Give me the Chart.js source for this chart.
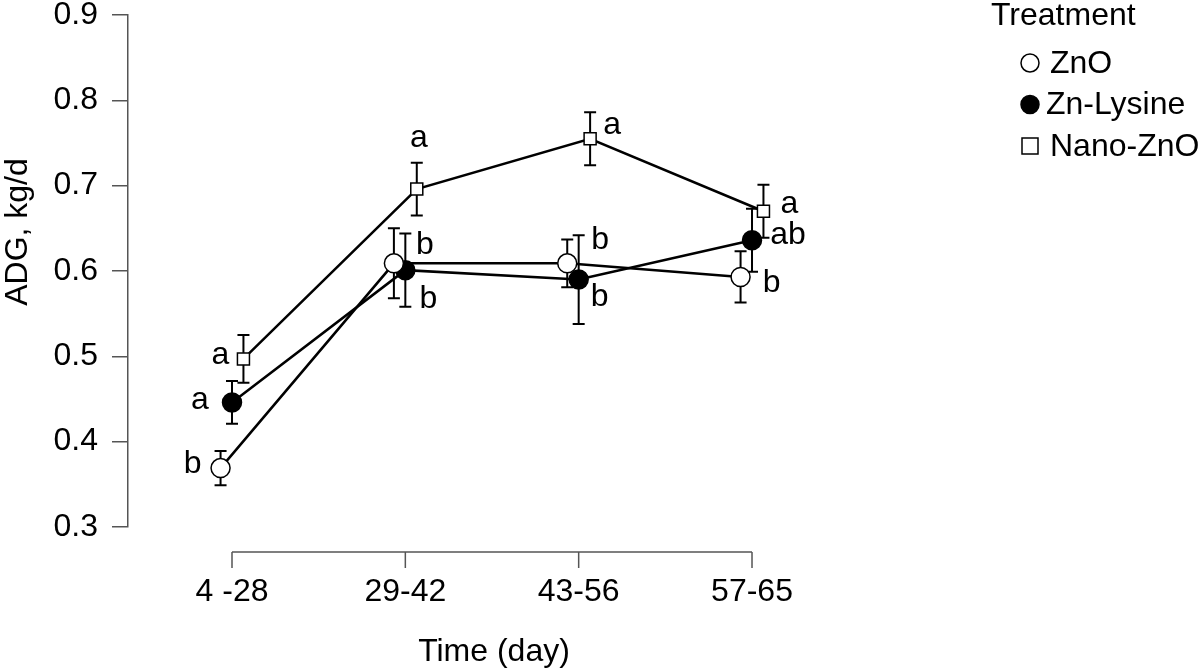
<!DOCTYPE html>
<html>
<head>
<meta charset="utf-8">
<script src="https://cdn.jsdelivr.net/npm/chart.js@4.4.1/dist/chart.umd.min.js"></script>
<style>
  body { margin: 0; background: #fff; }
  #wrap { width: 1200px; height: 671px; }
</style>
</head>
<body>
<div id="wrap"><canvas id="grafica" width="1200" height="671"></canvas></div>
<script>
// data
const periods = ["4 -28", "29-42", "43-56", "57-65"];
const yTicks = [0.3, 0.4, 0.5, 0.6, 0.7, 0.8, 0.9];

const znoMean = [0.369, 0.609, 0.609, 0.593];
const znoSem = [0.020, 0.041, 0.028, 0.030];
const znoLetters = ["b", "b", "b", "b"];

const lysMean = [0.446, 0.601, 0.590, 0.636];
const lysSem = [0.025, 0.043, 0.052, 0.037];
const lysLetters = ["a", "b", "b", "ab"];

const nanoMean = [0.497, 0.696, 0.755, 0.670];
const nanoSem = [0.028, 0.031, 0.031, 0.031];
const nanoLetters = ["a", "a", "a", "a"];

// letter offsets from each point, px
const znoLetterPos = [[-28, -4], [31, -18], [33, -23], [31, 6]];
const lysLetterPos = [[-32, -2], [23, 29], [21, 18], [36, -5]];
const nanoLetterPos = [[-23, -4], [2, -51], [22, -14], [26, -7]];

const FONT = "Liberation Sans, Arial, sans-serif";
const DODGE = 0.066;
const AXIS_COLOR = "#555";

function pts(mean, shift) {
    return mean.map((v, i) => ({ x: i + 1 + shift, y: v }));
}

const series = [
    { label: "ZnO", mean: znoMean, sem: znoSem, letters: znoLetters, pos: znoLetterPos,
      shift: -DODGE, style: "circle", fill: "#fff" },
    { label: "Zn-Lysine", mean: lysMean, sem: lysSem, letters: lysLetters, pos: lysLetterPos,
      shift: 0, style: "circle", fill: "#000" },
    { label: "Nano-ZnO", mean: nanoMean, sem: nanoSem, letters: nanoLetters, pos: nanoLetterPos,
      shift: DODGE, style: "rect", fill: "#fff" }
];

// error bars (under the points)
const errorBars = {
    id: "errorBars",
    beforeDatasetsDraw(chart) {
        let ctx = chart.ctx, y = chart.scales.y;
        ctx.save();
        ctx.strokeStyle = "#000";
        ctx.lineWidth = 2;
        chart.data.datasets.forEach((ds, di) => {
            let s = series[di];
            chart.getDatasetMeta(di).data.forEach((p, i) => {
                let top = y.getPixelForValue(s.mean[i] + s.sem[i]);
                let bot = y.getPixelForValue(s.mean[i] - s.sem[i]);
                ctx.beginPath();
                ctx.moveTo(p.x, top); ctx.lineTo(p.x, bot);
                ctx.moveTo(p.x - 6, top); ctx.lineTo(p.x + 6, top);
                ctx.moveTo(p.x - 6, bot); ctx.lineTo(p.x + 6, bot);
                ctx.stroke();
            });
        });
        ctx.restore();
    }
};

// letters, x axis bracket, y title, legend
const extras = {
    id: "extras",
    afterDatasetsDraw(chart) {
        let ctx = chart.ctx, x = chart.scales.x, area = chart.chartArea;
        ctx.save();
        ctx.fillStyle = "#000";
        ctx.font = "32px " + FONT;
        ctx.textAlign = "center";
        ctx.textBaseline = "middle";
        chart.data.datasets.forEach((ds, di) => {
            let s = series[di];
            chart.getDatasetMeta(di).data.forEach((p, i) => {
                ctx.fillText(s.letters[i], p.x + s.pos[i][0], p.y + s.pos[i][1]);
            });
        });

        // x axis only spans the categories
        let ay = area.bottom + 25;
        let x0 = x.getPixelForValue(1), x1 = x.getPixelForValue(periods.length);
        ctx.strokeStyle = AXIS_COLOR;
        ctx.lineWidth = 1.5;
        ctx.beginPath();
        ctx.moveTo(x0, ay); ctx.lineTo(x1, ay);
        periods.forEach((p, i) => {
            let px = x.getPixelForValue(i + 1);
            ctx.moveTo(px, ay); ctx.lineTo(px, ay + 16);
        });
        ctx.stroke();

        // y title
        ctx.save();
        ctx.translate(18, 232);
        ctx.rotate(-Math.PI / 2);
        ctx.fillText("ADG, kg/d", 0, 0);
        ctx.restore();

        // legend
        ctx.textAlign = "left";
        ctx.fillText("Treatment", 991, 16);
        series.forEach((s, i) => {
            let cy = 63 + i * 41.5, cx = 1030;
            ctx.beginPath();
            if (s.style === "circle") ctx.arc(cx, cy, 9, 0, Math.PI * 2);
            else ctx.rect(cx - 8, cy - 8, 16, 16);
            ctx.fillStyle = s.fill;
            ctx.fill();
            ctx.strokeStyle = "#000";
            ctx.lineWidth = 1.5;
            ctx.stroke();
            ctx.fillStyle = "#000";
            ctx.fillText(s.label, i === 1 ? 1046 : 1050, cy + 1);
        });
        ctx.restore();
    }
};

new Chart(document.getElementById("grafica").getContext("2d"), {
    type: "scatter",
    data: {
        datasets: series.map(s => ({
            label: s.label,
            data: pts(s.mean, s.shift),
            showLine: true,
            borderColor: "#000",
            borderWidth: 2.5,
            pointStyle: s.style,
            pointRadius: s.style === "rect" ? 8.5 : 9.5,
            pointHoverRadius: 9.5,
            pointBackgroundColor: s.fill,
            pointBorderColor: "#000",
            pointBorderWidth: 1.5
        }))
    },
    options: {
        responsive: false,
        animation: false,
        devicePixelRatio: 1,
        layout: { padding: { left: 0, top: 15, right: 340, bottom: 0 } },
        plugins: { legend: { display: false }, tooltip: { enabled: false } },
        scales: {
            x: {
                type: "linear",
                min: 0.4,
                max: 4.623,
                afterBuildTicks: s => { s.ticks = periods.map((p, i) => ({ value: i + 1 })); },
                afterFit: s => { s.height = 144; s.paddingLeft = 0; s.paddingRight = 0; },
                grid: { display: false, drawTicks: false },
                border: { display: false },
                ticks: {
                    autoSkip: false,
                    maxRotation: 0,
                    padding: 46,
                    color: "#000",
                    font: { family: FONT, size: 32 },
                    callback: v => periods[Math.round(v) - 1]
                },
                title: {
                    display: true,
                    text: "Time (day)",
                    color: "#000",
                    font: { family: FONT, size: 32 },
                    padding: { top: 0, bottom: 0 }
                }
            },
            y: {
                min: 0.3,
                max: 0.9,
                afterBuildTicks: s => { s.ticks = yTicks.map(v => ({ value: v })); },
                afterFit: s => { s.width = 128; s.paddingTop = 0; s.paddingBottom = 0; },
                grid: { display: true, drawOnChartArea: false, drawTicks: true, tickLength: 16,
                        color: AXIS_COLOR, lineWidth: 1.5 },
                border: { display: true, color: AXIS_COLOR, width: 1.5 },
                ticks: {
                    padding: 14,
                    color: "#000",
                    font: { family: FONT, size: 32 },
                    callback: v => v.toFixed(1)
                }
            }
        }
    },
    plugins: [errorBars, extras]
});
</script>
</body>
</html>
